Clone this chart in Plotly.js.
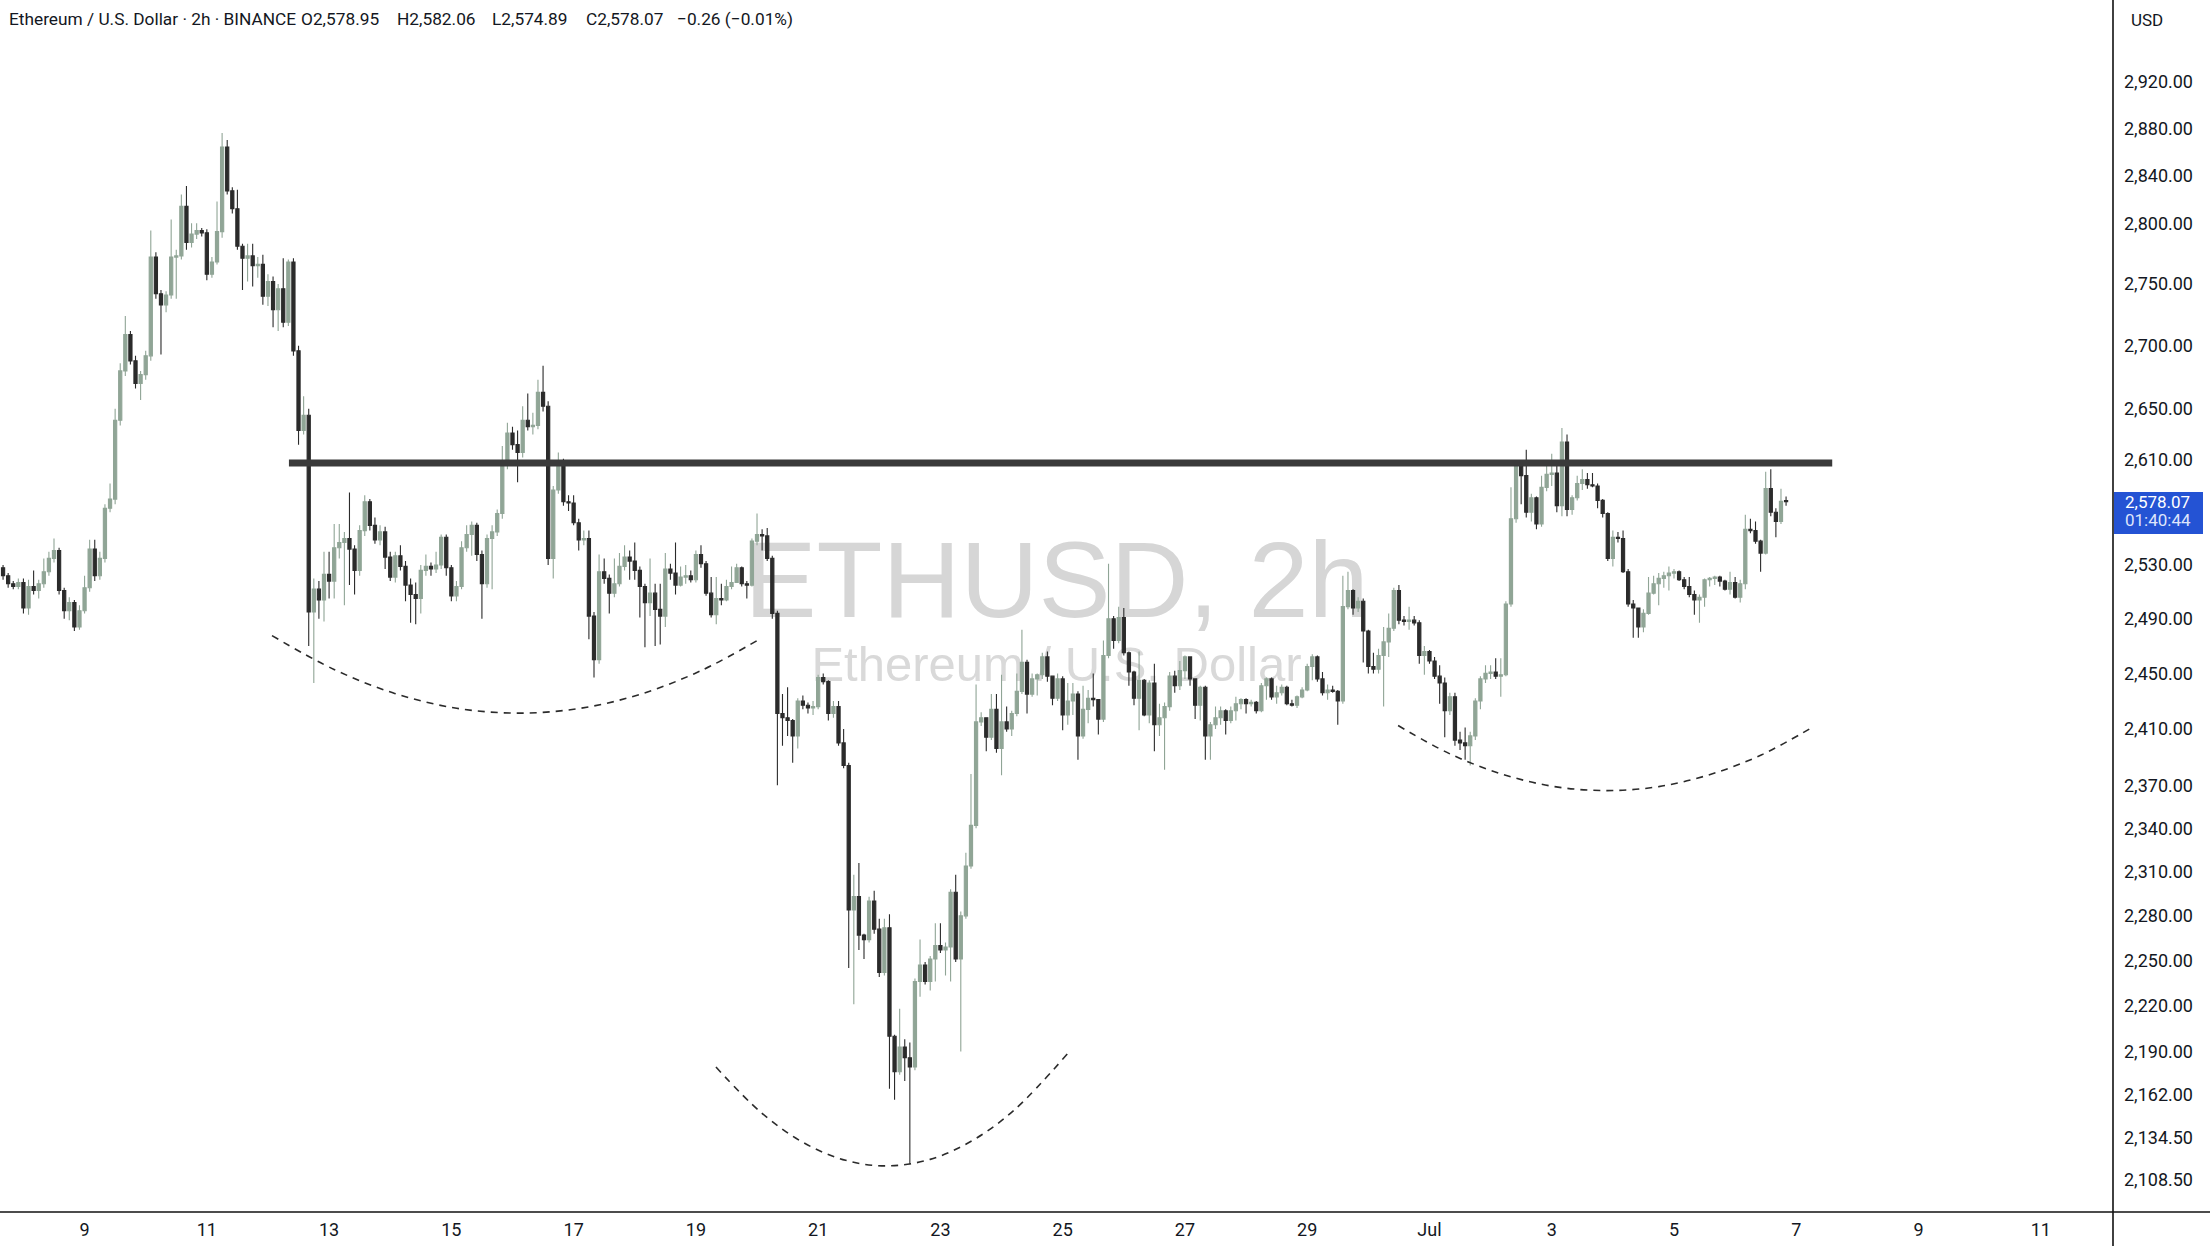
<!DOCTYPE html>
<html><head><meta charset="utf-8">
<script src="https://cdn.plot.ly/plotly-3.0.1.min.js"></script>
<style>html,body{margin:0;padding:0;background:#fff;overflow:hidden}#chart{width:2210px;height:1246px}</style>
</head><body><div id="chart"></div>
<script>
// ---- data: ETH/USD 2h candles (Binance), first bar 2025-06-07 16:00 ----
const firstBarUTC = Date.UTC(2025, 5, 7, 16, 0);
const barStepMs = 2 * 3600 * 1000;

const openP = [
2528,2522,2516,2514,2517,2498,2514,2511,2516,2525,
2535,2541,2511,2496,2502,2484,2496,2513,2542,2522,
2535,2573,2580,2641,2680,2709,2688,2670,2677,2692,
2772,2742,2733,2741,2772,2773,2814,2784,2791,2794,
2792,2758,2768,2793,2864,2827,2812,2781,2771,2773,
2765,2766,2740,2752,2729,2746,2719,2768,2696,2633,
2645,2495,2512,2504,2523,2518,2543,2547,2550,2542,
2526,2556,2578,2560,2549,2555,2536,2521,2537,2529,
2515,2508,2505,2526,2529,2527,2530,2551,2528,2507,
2514,2543,2553,2560,2538,2516,2550,2555,2569,2607,
2631,2622,2616,2641,2636,2637,2663,2652,2535,2587,
2608,2578,2577,2562,2549,2550,2492,2460,2525,2520,
2509,2516,2529,2536,2533,2526,2514,2502,2509,2497,
2492,2527,2524,2515,2521,2522,2519,2538,2531,2509,
2493,2505,2504,2514,2517,2528,2516,2515,2548,2553,
2552,2535,2494,2421,2418,2416,2405,2430,2427,2425,
2426,2447,2444,2421,2426,2400,2384,2284,2293,2267,
2264,2290,2271,2242,2272,2200,2177,2193,2186,2180,
2236,2247,2236,2251,2260,2257,2259,2296,2251,2280,
2314,2342,2415,2418,2404,2424,2396,2415,2410,2421,
2437,2458,2435,2446,2449,2462,2448,2432,2446,2420,
2430,2435,2405,2424,2432,2431,2417,2463,2490,2474,
2491,2465,2451,2432,2445,2420,2443,2413,2418,2426,
2448,2441,2452,2462,2446,2427,2440,2405,2413,2418,
2423,2416,2423,2428,2431,2428,2429,2423,2441,2446,
2433,2436,2440,2428,2427,2433,2438,2455,2462,2446,
2436,2438,2437,2430,2499,2511,2498,2503,2481,2455,
2453,2463,2473,2483,2511,2489,2488,2489,2487,2463,
2466,2459,2448,2443,2423,2433,2402,2400,2398,2405,
2430,2446,2450,2451,2448,2449,2501,2565,2605,2598,
2570,2581,2561,2589,2599,2600,2575,2624,2572,2581,
2592,2595,2591,2590,2579,2569,2535,2551,2550,2525,
2501,2498,2484,2494,2509,2516,2520,2522,2524,2525,
2519,2514,2508,2504,2506,2519,2520,2521,2518,2512,
2517,2506,2516,2557,2556,2548,2539,2588,2570,2563,2578.95];

const highP = [
2530,2524,2518,2520,2520,2519,2526,2519,2535,2540,
2550,2543,2513,2506,2504,2500,2522,2549,2549,2540,
2576,2592,2650,2686,2724,2712,2692,2680,2696,2794,
2776,2745,2744,2803,2778,2824,2831,2800,2800,2796,
2795,2772,2818,2876,2870,2830,2828,2783,2783,2783,
2772,2774,2758,2756,2750,2771,2770,2771,2700,2660,
2650,2520,2518,2540,2540,2561,2561,2555,2585,2545,
2560,2583,2580,2566,2560,2559,2540,2540,2545,2533,
2520,2517,2530,2538,2532,2540,2553,2553,2530,2518,
2548,2560,2563,2562,2541,2553,2560,2572,2621,2639,
2636,2633,2652,2662,2647,2673,2684,2656,2590,2616,
2611,2583,2583,2565,2556,2556,2495,2538,2535,2523,
2535,2539,2545,2541,2547,2529,2516,2535,2516,2516,
2539,2531,2547,2529,2530,2526,2541,2545,2533,2521,
2521,2516,2519,2529,2531,2529,2518,2550,2569,2557,
2558,2537,2496,2435,2440,2417,2432,2434,2429,2430,
2449,2450,2445,2430,2430,2410,2386,2308,2316,2268,
2293,2297,2278,2278,2281,2201,2218,2198,2196,2238,
2264,2249,2253,2275,2275,2262,2298,2308,2283,2323,
2378,2442,2422,2418,2435,2435,2449,2426,2423,2450,
2482,2460,2450,2450,2465,2466,2448,2450,2448,2443,
2443,2437,2441,2438,2450,2431,2474,2531,2492,2499,
2498,2466,2452,2466,2446,2445,2457,2428,2429,2451,
2452,2459,2463,2462,2446,2441,2441,2415,2426,2426,
2424,2426,2433,2432,2432,2431,2430,2443,2447,2447,
2441,2442,2441,2431,2434,2440,2457,2464,2463,2451,
2442,2441,2438,2522,2525,2512,2506,2505,2482,2465,
2468,2484,2494,2513,2515,2492,2499,2492,2489,2470,
2467,2462,2456,2447,2436,2436,2408,2411,2408,2432,
2448,2456,2456,2461,2461,2503,2589,2606,2607,2618,
2584,2582,2598,2607,2615,2607,2635,2630,2583,2598,
2603,2600,2600,2592,2580,2570,2556,2555,2556,2527,
2504,2498,2497,2521,2522,2524,2525,2529,2527,2526,
2521,2521,2511,2508,2520,2521,2522,2522,2519,2525,
2521,2519,2568,2565,2563,2549,2601,2603,2573,2588,2582.06];

const lowP = [
2519,2513,2512,2512,2494,2493,2508,2505,2513,2522,
2532,2508,2490,2489,2481,2482,2494,2510,2518,2519,
2532,2570,2576,2637,2676,2685,2666,2657,2673,2688,
2738,2693,2727,2738,2738,2770,2778,2780,2787,2789,
2753,2755,2766,2788,2824,2808,2778,2745,2752,2748,
2755,2733,2732,2715,2712,2715,2716,2692,2622,2630,
2470,2443,2490,2488,2505,2505,2535,2500,2515,2508,
2522,2552,2556,2546,2545,2527,2518,2517,2526,2503,
2487,2486,2494,2522,2522,2524,2527,2522,2503,2503,
2512,2540,2537,2533,2490,2513,2512,2552,2565,2603,
2618,2593,2612,2633,2630,2634,2648,2530,2520,2584,
2575,2571,2560,2541,2545,2475,2447,2457,2516,2494,
2506,2514,2526,2519,2519,2491,2469,2492,2470,2471,
2484,2519,2508,2514,2516,2517,2517,2528,2507,2491,
2486,2500,2503,2512,2517,2514,2505,2514,2545,2541,
2533,2490,2370,2398,2405,2386,2396,2424,2421,2420,
2424,2442,2416,2418,2398,2382,2245,2221,2257,2251,
2262,2268,2239,2240,2166,2159,2175,2171,2118,2178,
2226,2234,2230,2236,2255,2240,2236,2249,2190,2278,
2312,2340,2412,2394,2402,2393,2377,2408,2405,2419,
2435,2421,2433,2434,2446,2444,2427,2430,2409,2413,
2420,2388,2403,2414,2426,2406,2415,2461,2468,2472,
2463,2441,2427,2409,2419,2414,2394,2405,2381,2423,
2436,2438,2446,2441,2417,2416,2388,2388,2410,2413,
2406,2414,2416,2424,2421,2426,2421,2422,2431,2431,
2428,2434,2427,2426,2425,2432,2437,2445,2444,2434,
2431,2436,2413,2428,2497,2493,2495,2458,2450,2450,
2450,2426,2462,2481,2486,2485,2482,2485,2457,2449,
2457,2446,2428,2404,2420,2398,2395,2388,2384,2402,
2424,2443,2446,2446,2433,2448,2499,2562,2576,2566,
2563,2557,2559,2586,2590,2570,2567,2567,2568,2579,
2587,2588,2589,2573,2566,2533,2529,2547,2524,2499,
2476,2476,2480,2493,2508,2500,2513,2511,2520,2518,
2512,2506,2493,2487,2499,2514,2515,2514,2511,2508,
2505,2502,2512,2554,2546,2525,2538,2567,2551,2561,2574.89];

const closeP = [
2522,2516,2514,2517,2498,2514,2511,2516,2525,2535,
2541,2511,2496,2502,2484,2496,2513,2542,2522,2535,
2573,2580,2641,2680,2709,2688,2670,2677,2692,2772,
2742,2733,2741,2772,2773,2814,2784,2791,2794,2792,
2758,2768,2793,2864,2827,2812,2781,2771,2773,2765,
2766,2740,2752,2729,2746,2719,2768,2696,2633,2645,
2495,2512,2504,2523,2518,2543,2547,2550,2542,2526,
2556,2578,2560,2549,2555,2536,2521,2537,2529,2515,
2508,2505,2526,2529,2527,2530,2551,2528,2507,2514,
2543,2553,2560,2538,2516,2550,2555,2569,2607,2631,
2622,2616,2641,2636,2637,2663,2652,2535,2587,2608,
2578,2577,2562,2549,2550,2492,2460,2525,2520,2509,
2516,2529,2536,2533,2526,2514,2502,2509,2497,2492,
2527,2524,2515,2521,2522,2519,2538,2531,2509,2493,
2505,2504,2514,2517,2528,2516,2515,2548,2553,2552,
2535,2494,2421,2418,2416,2405,2430,2427,2425,2426,
2447,2444,2421,2426,2400,2384,2284,2293,2267,2264,
2290,2271,2242,2272,2200,2177,2193,2186,2180,2236,
2247,2236,2251,2260,2257,2259,2296,2251,2280,2314,
2342,2415,2418,2404,2424,2396,2415,2410,2421,2437,
2458,2435,2446,2449,2462,2448,2432,2446,2420,2430,
2435,2405,2424,2432,2431,2417,2463,2490,2474,2491,
2465,2451,2432,2445,2420,2443,2413,2418,2426,2448,
2441,2452,2462,2446,2427,2440,2405,2413,2418,2423,
2416,2423,2428,2431,2428,2429,2423,2441,2446,2433,
2436,2440,2428,2427,2433,2438,2455,2462,2446,2436,
2438,2437,2430,2499,2511,2498,2503,2481,2455,2453,
2463,2473,2483,2511,2489,2488,2489,2487,2463,2466,
2459,2448,2443,2423,2433,2402,2400,2398,2405,2430,
2446,2450,2451,2448,2449,2501,2565,2605,2598,2570,
2581,2561,2589,2599,2600,2575,2624,2572,2581,2592,
2595,2591,2590,2579,2569,2535,2551,2550,2525,2501,
2498,2484,2494,2509,2516,2520,2522,2524,2525,2519,
2514,2508,2504,2506,2519,2520,2521,2518,2512,2517,
2506,2516,2557,2556,2548,2539,2588,2570,2563,2578.33,2578.07];

// time-axis labels
const tickDates  = ['2025-06-09','2025-06-11','2025-06-13','2025-06-15','2025-06-17','2025-06-19','2025-06-21','2025-06-23','2025-06-25','2025-06-27','2025-06-29','2025-07-01','2025-07-03','2025-07-05','2025-07-07','2025-07-09','2025-07-11'];
const tickLabels = ['9','11','13','15','17','19','21','23','25','27','29','Jul','3','5','7','9','11'];
// price-axis labels
const priceTicks = [2108.5,2134.5,2162,2190,2220,2250,2280,2310,2340,2370,2410,2450,2490,2530,2610,2650,2700,2750,2800,2840,2880,2920];

// drawings
const resistDates  = ['2025-06-12 08:14','2025-07-07 14:07'];
const resistPrices = [2607.8, 2607.8];
const arc1Dates  = ['2025-06-12 01:35','2025-06-13 01:56','2025-06-14 01:44','2025-06-15 02:05','2025-06-16 02:25','2025-06-17 02:46','2025-06-18 02:34','2025-06-19 02:21','2025-06-20 01:35'];
const arc1Prices = [2477.6,2452.9,2435.5,2424.8,2421.3,2424.8,2435.1,2452.3,2475.6];
const arc2Dates  = ['2025-06-19 07:53','2025-06-20 01:35','2025-06-20 18:11','2025-06-21 10:47','2025-06-22 02:50','2025-06-22 19:59','2025-06-23 12:35','2025-06-24 05:11','2025-06-25 02:13'];
const arc2Prices = [2180.0,2150.8,2131.7,2120.5,2117.0,2121.1,2133.0,2152.7,2189.2];
const arc3Dates  = ['2025-06-30 11:41','2025-07-01 08:10','2025-07-02 04:38','2025-07-03 01:06','2025-07-03 21:35','2025-07-04 18:03','2025-07-05 14:31','2025-07-06 10:27','2025-07-07 06:55'];
const arc3Prices = [2412.4,2392.1,2377.8,2369.1,2366.3,2369.1,2377.8,2391.6,2411.8];

const symbolTitle = 'Ethereum / U.S. Dollar · 2h · BINANCE';
const watermark1 = 'ETHUSD, 2h';
const watermark2 = 'Ethereum / U.S. Dollar';
const countdown = '01:40:44';

// ---- build ----
function fmtDate(ms){ return new Date(ms).toISOString().slice(0,16).replace('T',' '); }
const times = closeP.map((_, i) => fmtDate(firstBarUTC + i * barStepMs));
const fmtP = v => v.toLocaleString('en-US', {minimumFractionDigits:2, maximumFractionDigits:2});
const last = closeP.length - 1;
const chg = closeP[last] - closeP[last-1];
const chgPct = chg / closeP[last-1] * 100;
const minus = s => s.replace('-', '\u2212');

const UP = '#90a596', DOWN = '#2b2b2b';
const FONT = 'Roboto, "Noto Sans", sans-serif';
const TXT = '#131722';
const PLOT_W = 2113, PLOT_H = 1212;

const data = [
  { type:'candlestick', x:times, open:openP, high:highP, low:lowP, close:closeP,
    increasing:{line:{color:UP, width:1.1}, fillcolor:UP},
    decreasing:{line:{color:DOWN, width:1.1}, fillcolor:DOWN},
    whiskerwidth:0, hoverinfo:'skip' },
  { type:'scatter', mode:'lines', x:resistDates, y:resistPrices, line:{color:'#3a3a3a', width:7}, hoverinfo:'skip' },
  { type:'scatter', mode:'lines', x:arc1Dates, y:arc1Prices, line:{color:'#2b2b2b', width:1.6, dash:'7px,6px', shape:'spline'}, hoverinfo:'skip' },
  { type:'scatter', mode:'lines', x:arc2Dates, y:arc2Prices, line:{color:'#2b2b2b', width:1.6, dash:'7px,6px', shape:'spline'}, hoverinfo:'skip' },
  { type:'scatter', mode:'lines', x:arc3Dates, y:arc3Prices, line:{color:'#2b2b2b', width:1.6, dash:'7px,6px', shape:'spline'}, hoverinfo:'skip' }
];

const headerParts = [
  [symbolTitle, 7],
  ['O' + fmtP(openP[last]), 299],
  ['H' + fmtP(highP[last]), 395],
  ['L' + fmtP(lowP[last]), 490],
  ['C' + fmtP(closeP[last]), 584],
  [minus(chg.toFixed(2)) + ' (' + minus(chgPct.toFixed(2)) + '%)', 675]
];

const annotations = headerParts.map(([t, px]) => ({
  xref:'paper', yref:'paper', x:px/PLOT_W, y:1, xanchor:'left', yanchor:'middle', yshift:-19,
  text:t, showarrow:false, font:{family:FONT, size:17.3, color:TXT}
}));
annotations.push({xref:'paper', yref:'paper', x:1, y:1, xanchor:'left', yanchor:'middle', xshift:16, yshift:-20,
  text:'USD', showarrow:false, font:{family:FONT, size:17, color:TXT}});
annotations.push({xref:'paper', yref:'y', x:1, y:Math.log10(closeP[last]), xanchor:'left', yanchor:'middle', xshift:10,
  text:fmtP(closeP[last]), showarrow:false, font:{family:FONT, size:17, color:'#ffffff'}});
annotations.push({xref:'paper', yref:'y', x:1, y:Math.log10(closeP[last]), xanchor:'left', yanchor:'middle', xshift:10, yshift:-18.5,
  text:countdown, showarrow:false, font:{family:FONT, size:17, color:'#dfe5fb'}});

const ylo = Math.log10(2088.25), yhi = Math.log10(2991.67);
const shapes = [
  // watermark
  {type:'rect', xref:'paper', yref:'paper', x0:0.3, x1:0.7, y0:0.497, y1:0.563, line:{width:0}, fillcolor:'rgba(0,0,0,0)', layer:'below',
   label:{text:watermark1, textposition:'middle center', font:{family:'"Liberation Sans", Arial, sans-serif', size:108, color:'#d6d6d6'}}},
  {type:'rect', xref:'paper', yref:'paper', x0:0.3, x1:0.7, y0:0.4335, y1:0.4795, line:{width:0}, fillcolor:'rgba(0,0,0,0)', layer:'below',
   label:{text:watermark2, textposition:'middle center', font:{family:'"Liberation Sans", Arial, sans-serif', size:49, color:'#d9d9d9'}}},
  // last price dotted line
  {type:'line', xref:'paper', yref:'y', x0:0, x1:1, y0:Math.log10(closeP[last]), y1:Math.log10(closeP[last]), line:{color:'#5f6b8c', width:1, dash:'2px,2px'}},
  // price tag box
  {type:'rect', xref:'paper', yref:'paper', x0:1 + 1/PLOT_W, x1:1 + 90/PLOT_W, y0:1 - 534/PLOT_H, y1:1 - 492/PLOT_H, line:{width:0}, fillcolor:'#2453d4'},
  // axis borders
  {type:'line', xref:'paper', yref:'paper', x0:1, x1:1, y0:-34/PLOT_H, y1:1, line:{color:'#111', width:1.6}},
  {type:'line', xref:'paper', yref:'paper', x0:0, x1:2210/PLOT_W, y0:0, y1:0, line:{color:'#111', width:1.6}}
];

const layout = {
  width:2210, height:1246,
  margin:{l:0, r:97, t:0, b:34, pad:0},
  paper_bgcolor:'#ffffff', plot_bgcolor:'#ffffff',
  showlegend:false,
  boxgap:0.2, boxgroupgap:0.22,
  xaxis:{type:'date', range:['2025-06-07 14:48','2025-07-12 04:21'], rangeslider:{visible:false},
    showgrid:false, zeroline:false, showline:false, ticks:'',
    tickmode:'array', tickvals:tickDates, ticktext:tickLabels,
    tickfont:{family:FONT, size:18, color:TXT}, ticklabelstandoff:5, automargin:false},
  yaxis:{type:'log', side:'right', range:[ylo, yhi],
    showgrid:false, zeroline:false, showline:false, ticks:'',
    tickmode:'array', tickvals:priceTicks, ticktext:priceTicks.map(fmtP),
    tickfont:{family:FONT, size:18, color:TXT}, ticklabelstandoff:10, automargin:false},
  shapes:shapes,
  annotations:annotations
};

Plotly.newPlot('chart', data, layout, {staticPlot:true, displayModeBar:false});
</script>
</body></html>
